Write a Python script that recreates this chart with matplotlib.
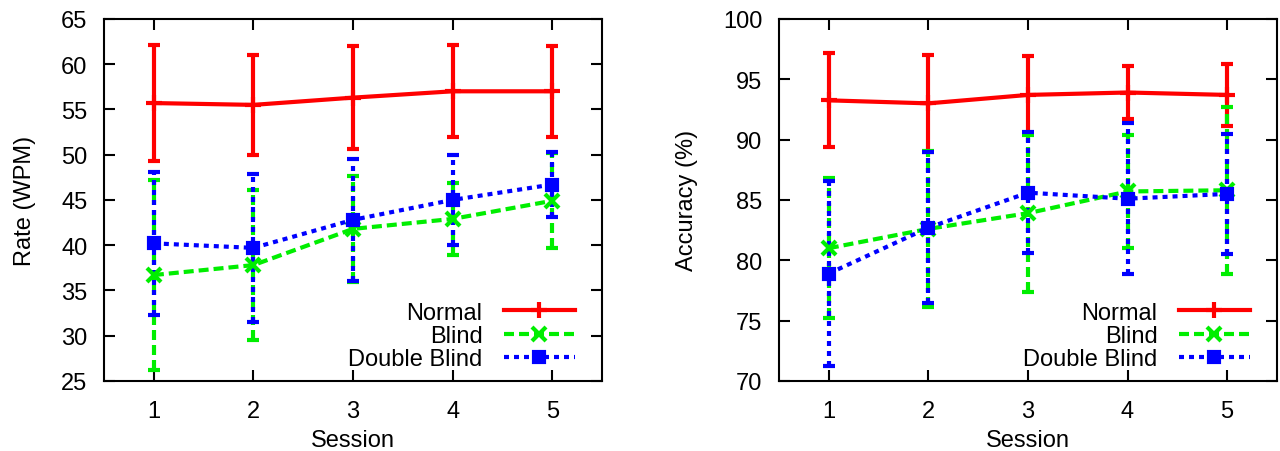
import matplotlib
matplotlib.use("Agg")
from matplotlib import pyplot as plt

sessions = [1, 2, 3, 4, 5]

# rate (WPM): means and std devs
rate_normal = [55.7, 55.5, 56.3, 57.0, 57.0]
rate_normal_err = [6.4, 5.5, 5.65, 5.1, 5.0]
rate_blind = [36.7, 37.8, 41.8, 42.9, 44.9]
rate_blind_err = [10.5, 8.25, 5.85, 4.0, 5.25]
rate_double = [40.2, 39.7, 42.8, 45.0, 46.7]
rate_double_err = [7.9, 8.2, 6.75, 4.95, 3.55]

# accuracy (%)
acc_normal = [93.25, 93.0, 93.7, 93.9, 93.7]
acc_normal_err = [3.9, 4.0, 3.25, 2.2, 2.6]
acc_blind = [81.0, 82.6, 83.9, 85.7, 85.8]
acc_blind_err = [5.8, 6.45, 6.5, 4.65, 6.9]
acc_double = [78.9, 82.7, 85.6, 85.1, 85.5]
acc_double_err = [7.65, 6.25, 5.0, 6.25, 4.95]

labels = ["Normal", "Blind", "Double Blind"]

plt.rcParams['font.family'] = ['Liberation Sans', 'DejaVu Sans']
plt.rcParams['font.size'] = 17

styles = [
    dict(color='#ff0000', dashes=None, marker='+', ms=12),
    dict(color='#00ee00', dashes=(2.4, 1.2), marker='x', ms=10),
    dict(color='#0000ff', dashes=(1.2, 1.2), marker='s', ms=7),
]


def draw(ax, series, ylabel, ylim, yticks):
    handles = []
    for (y, err), st in zip(series, styles):
        c = ax.errorbar(sessions, y, yerr=err, color=st['color'], lw=3,
                        elinewidth=3, capsize=4, capthick=3,
                        marker=st['marker'], ms=st['ms'], mew=3)
        line = c[0]
        if st['dashes']:
            line.set_dashes(st['dashes'])
            c[2][0].set_linestyle((0, st['dashes']))
        handles.append(line)
    ax.set_xlim(0.5, 5.5)
    ax.set_ylim(*ylim)
    ax.set_xticks(sessions)
    ax.set_yticks(yticks)
    ax.set_xlabel("Session", labelpad=5)
    ax.set_ylabel(ylabel, labelpad=18)
    ax.tick_params(direction='in', length=8, width=1.5, top=True, right=True)
    ax.tick_params(axis='x', pad=14)
    ax.tick_params(axis='y', pad=12)
    for s in ax.spines.values():
        s.set_linewidth(1.5)
    ax.legend(handles, labels, loc='lower right', bbox_to_anchor=(0.945, 0.03),
              frameon=False, markerfirst=False, handlelength=3.0,
              handletextpad=0.9, labelspacing=0.05, borderpad=0, borderaxespad=0)


fig = plt.figure(figsize=(12.8, 4.52), dpi=100)
ax1 = fig.add_axes([0.0813, 0.155, 0.389, 0.801])
ax2 = fig.add_axes([0.6086, 0.155, 0.389, 0.801])

draw(ax1, [(rate_normal, rate_normal_err), (rate_blind, rate_blind_err),
           (rate_double, rate_double_err)], "Rate (WPM)", (25, 65), range(25, 66, 5))
draw(ax2, [(acc_normal, acc_normal_err), (acc_blind, acc_blind_err),
           (acc_double, acc_double_err)], "Accuracy (%)", (70, 100), range(70, 101, 5))

fig.savefig("out.png", dpi=100)
